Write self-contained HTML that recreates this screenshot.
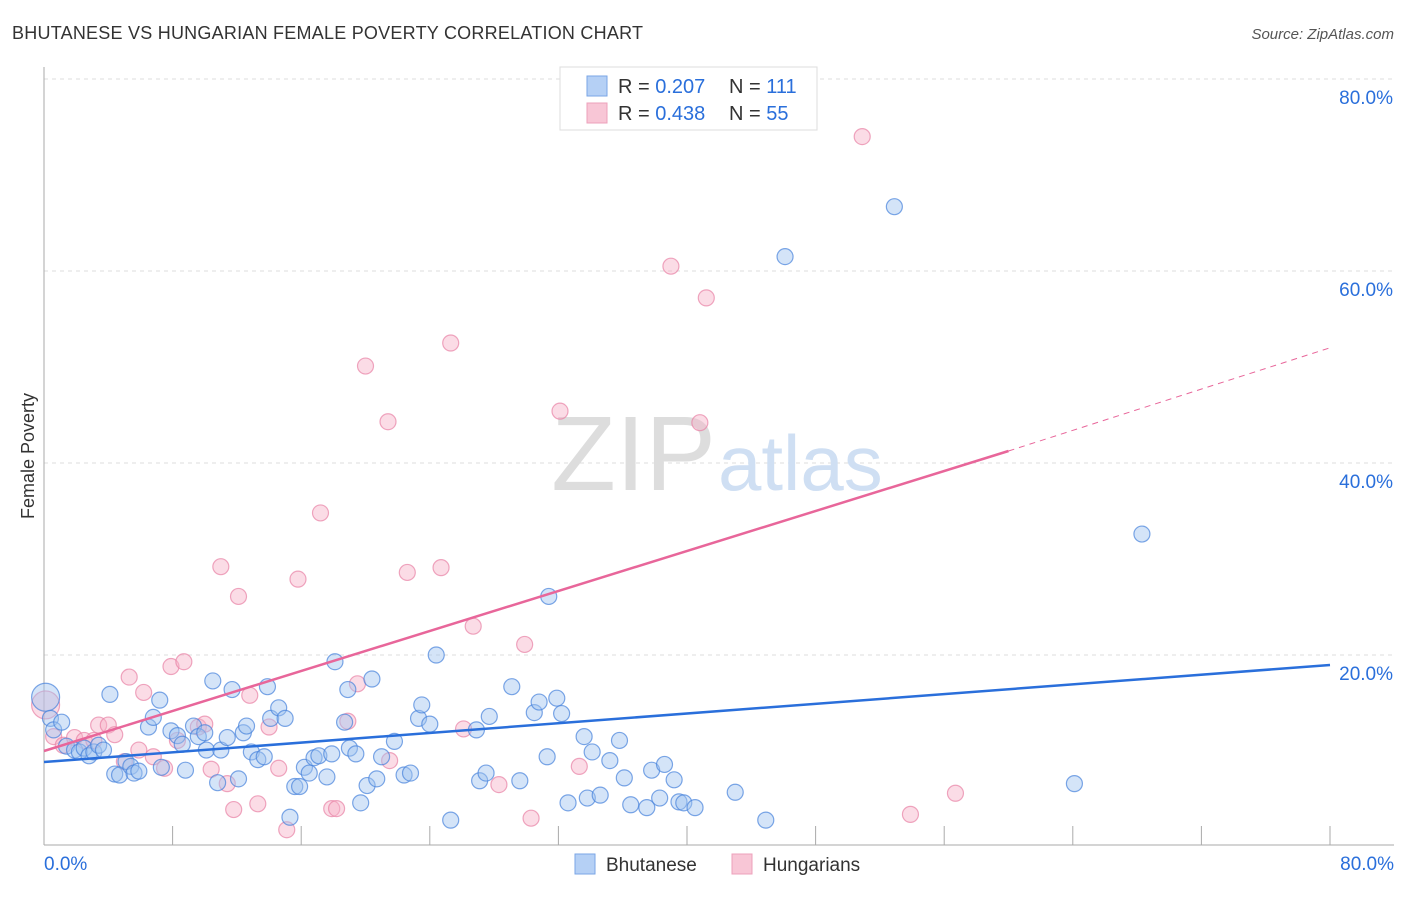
<!DOCTYPE html>
<html><head><meta charset="utf-8"><style>
body{margin:0;background:#fff;font-family:"Liberation Sans",sans-serif;}
svg text{font-family:"Liberation Sans",sans-serif;}
</style></head><body>
<svg id="chart" width="1406" height="892">
<text x="12" y="39" font-size="18" fill="#333" textLength="631">BHUTANESE VS HUNGARIAN FEMALE POVERTY CORRELATION CHART</text>
<text x="1394" y="39" font-size="15" fill="#555" font-style="italic" text-anchor="end">Source: ZipAtlas.com</text>
<text x="34" y="456" font-size="18" fill="#333" transform="rotate(-90 34 456)" text-anchor="middle">Female Poverty</text>
<g id="grid"></g>
<text x="716" y="490" font-size="106" fill="#ddd" font-family="Liberation Serif" text-anchor="end">ZIP</text>
<text x="718" y="490" font-size="78" fill="#cfdff3">atlas</text>
<g id="pts"></g>
<g id="lines"></g>
<g>
<rect x="560" y="67" width="257" height="63" fill="#fff" stroke="#ddd"/>
<rect x="587" y="76" width="20" height="20" fill="#b5d0f5" stroke="#7aa6e6"/>
<rect x="587" y="103" width="20" height="20" fill="#f8c6d6" stroke="#eda0bb"/>
<text x="618" y="93" font-size="20" fill="#333">R = <tspan fill="#2a6fdb">0.207</tspan></text>
<text x="729" y="93" font-size="20" fill="#333">N = <tspan fill="#2a6fdb">111</tspan></text>
<text x="618" y="120" font-size="20" fill="#333">R = <tspan fill="#2a6fdb">0.438</tspan></text>
<text x="729" y="120" font-size="20" fill="#333">N = <tspan fill="#2a6fdb">55</tspan></text>
</g>
<g>
<rect x="575" y="854" width="20" height="20" fill="#b5d0f5" stroke="#7aa6e6"/>
<text x="606" y="871" font-size="19" fill="#333">Bhutanese</text>
<rect x="732" y="854" width="20" height="20" fill="#f8c6d6" stroke="#eda0bb"/>
<text x="763" y="871" font-size="19" fill="#333">Hungarians</text>
</g>
</svg>
<script>
const bx=[0.1,0.4,0.6,1.1,1.4,1.9,2.2,2.5,2.8,3.1,3.4,3.7,4.1,4.4,4.7,5.1,5.4,5.6,5.9,6.5,6.8,7.2,7.3,7.9,8.3,8.6,8.8,9.3,9.6,10.0,10.1,10.5,10.8,11.0,11.4,11.7,12.1,12.4,12.6,12.9,13.3,13.7,13.9,14.1,14.6,15.0,15.3,15.6,15.9,16.2,16.5,16.8,17.1,17.6,17.9,18.1,18.7,18.9,19.0,19.4,19.7,20.1,20.4,20.7,21.0,21.8,22.4,22.8,23.3,23.5,24.0,24.4,25.3,26.9,27.1,27.5,27.7,29.1,29.6,30.5,30.8,31.3,31.4,31.9,32.2,32.6,33.6,33.8,34.1,34.6,35.2,35.8,36.1,36.5,37.5,37.8,38.3,38.6,39.2,39.5,39.8,40.5,43.0,44.9,46.1,52.9,64.1,68.3];
const by=[15.6,13.4,12.2,13.0,10.5,10.1,9.9,10.3,9.5,9.9,10.6,10.1,15.9,7.6,7.5,8.9,8.4,7.7,7.9,12.5,13.5,15.3,8.3,12.1,11.6,10.7,8.0,12.6,11.5,11.9,10.1,17.3,6.7,10.1,11.4,16.4,7.1,11.9,12.6,9.9,9.1,9.4,16.7,13.4,14.5,13.4,3.1,6.3,6.3,8.3,7.7,9.3,9.5,7.3,9.7,19.3,13.0,16.4,10.3,9.7,4.6,6.4,17.5,7.1,9.4,11.0,7.5,7.7,13.4,14.8,12.8,20.0,2.8,12.2,6.9,7.7,13.6,16.7,6.9,14.0,15.1,9.4,26.1,15.5,13.9,4.6,11.5,5.1,9.9,5.4,9.0,11.1,7.2,4.4,4.1,8.0,5.1,8.6,7.0,4.7,4.6,4.1,5.7,2.8,61.5,66.7,6.6,32.6];
const px=[0.1,0.6,1.2,1.9,2.5,3.1,3.4,4.0,4.4,5.0,5.3,5.9,6.2,6.8,7.5,7.9,8.3,8.7,9.6,10.0,10.4,11.0,11.4,11.8,12.1,12.8,13.3,14.0,14.6,15.1,15.8,17.2,17.9,18.2,18.9,19.5,20.0,21.4,21.5,22.6,24.7,25.3,26.1,26.7,28.3,29.9,30.3,32.1,33.3,39.0,40.8,41.2,50.9,53.9,56.7];
const py=[14.8,11.5,10.6,11.4,11.1,11.1,12.7,12.7,11.7,8.9,17.7,10.1,16.1,9.4,8.2,18.8,11.1,19.3,12.5,12.8,8.1,29.2,6.6,3.9,26.1,15.8,4.5,12.5,8.2,1.8,27.9,34.8,4.0,4.0,13.1,17.0,50.1,44.3,9.0,28.6,29.1,52.5,12.3,23.0,6.5,21.1,3.0,45.4,8.4,60.5,44.2,57.2,74.0,3.4,5.6];
const yTicks=[20,40,60,80];
const xTickLabels=["0.0%","80.0%"];
const blueTrend=[8.85,18.96];
const pinkTrend=[10.0,41.25,52.0];
const pinkSolidEnd=60;

const X=v=>44+v*(1330-44)/80, Y=v=>847-v*9.6;
const NS="http://www.w3.org/2000/svg";
function mk(t,a,p){const e=document.createElementNS(NS,t);for(const k in a)e.setAttribute(k,a[k]);p.appendChild(e);return e;}
const g=document.getElementById('grid');
yTicks.forEach(t=>{
 const l=mk('line',{x1:44,x2:1394,y1:Y(t),y2:Y(t),stroke:'#ddd','stroke-dasharray':'4,4'},g);
 
 
 const tx=mk('text',{x:1393,y:Y(t)+25,'font-size':19,fill:'#2a6fdb','text-anchor':'end'},g);tx.textContent=t.toFixed(1)+'%';
 
 
});
mk('line',{x1:44,x2:44,y1:67,y2:845,stroke:'#aaa'},g);
mk('line',{x1:44,x2:1394,y1:845,y2:845,stroke:'#aaa'},g);
for(let i=0;i<=10;i++){const l=mk('line',{x1:X(i*8),x2:X(i*8),y1:826,y2:845,stroke:'#aaa'},g);
 
 }
let t1=mk('text',{x:44,y:870,'font-size':19,fill:'#2a6fdb'},g);t1.textContent=xTickLabels[0];


let t2=mk('text',{x:1394,y:870,'font-size':19,fill:'#2a6fdb','text-anchor':'end'},g);t2.textContent=xTickLabels[1];


const pg=document.getElementById('pts');
px.forEach((x,i)=>{const c=mk('circle',{cx:X(x),cy:Y(py[i]),r:i==0?14:8,fill:'rgba(246,178,200,0.45)',stroke:'rgba(232,130,165,0.7)','stroke-width':1.2},pg);
 
 });
bx.forEach((x,i)=>{const c=mk('circle',{cx:X(x),cy:Y(by[i]),r:i==0?14:8,fill:'rgba(160,196,240,0.45)',stroke:'rgba(70,130,220,0.7)','stroke-width':1.2},pg);
 
 });
const lg=document.getElementById('lines');
let bl=mk('line',{x1:X(0),y1:Y(blueTrend[0]),x2:X(80),y2:Y(blueTrend[1]),stroke:'#2a6fdb','stroke-width':2.5},lg);


let pl=mk('line',{x1:X(0),y1:Y(pinkTrend[0]),x2:X(pinkSolidEnd),y2:Y(pinkTrend[1]),stroke:'#e8669a','stroke-width':2.5},lg);


let pd=mk('line',{x1:X(pinkSolidEnd),y1:Y(pinkTrend[1]),x2:X(80),y2:Y(pinkTrend[2]),stroke:'#e8669a','stroke-width':1,'stroke-dasharray':'6,5'},lg);


</script>
</body></html>
